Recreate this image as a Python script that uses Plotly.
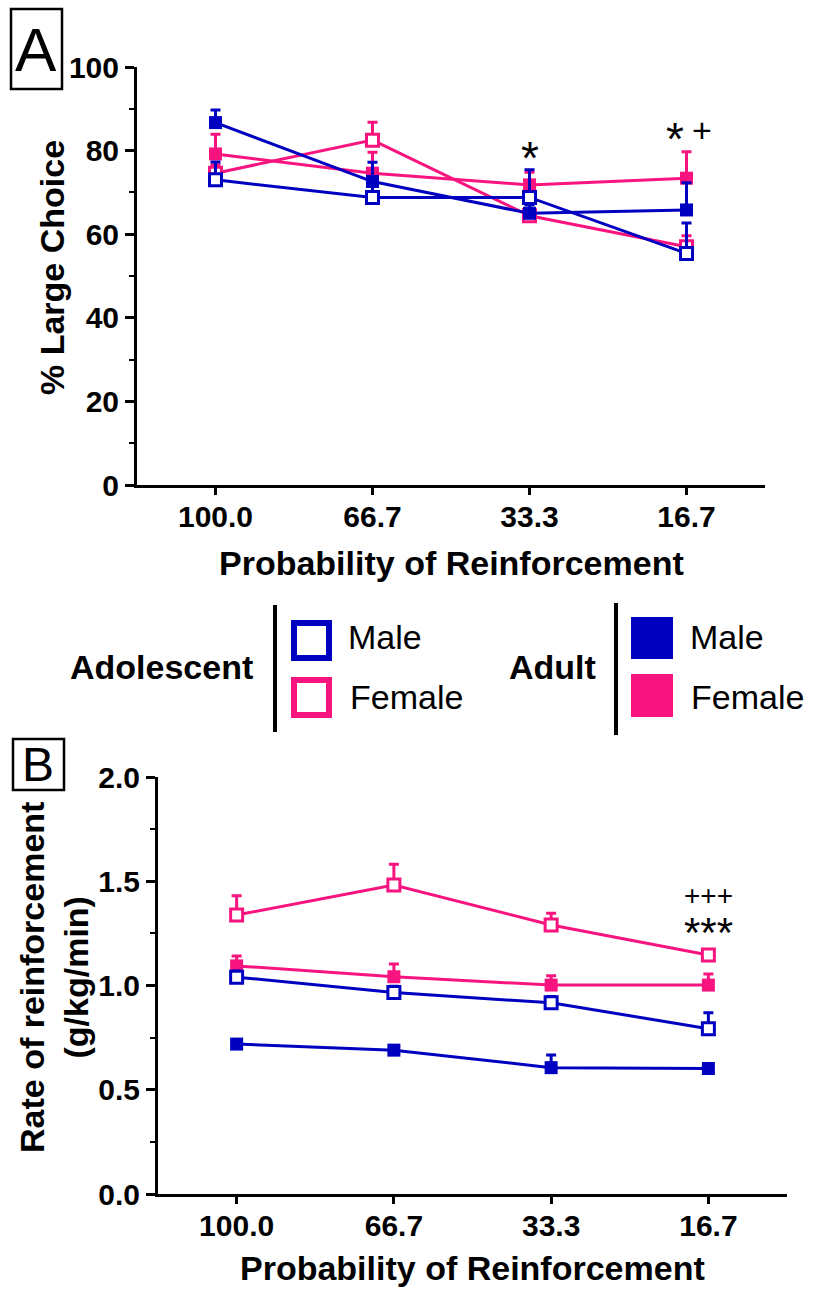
import plotly.graph_objects as go

# ---- data -------------------------------------------------------------
categories = ["100.0", "66.7", "33.3", "16.7"]

# Panel A: % large choice (mean and SEM)
adol_male_A = [73.0, 68.8, 68.8, 55.4]
adol_male_A_sem = [4.3, 4.0, 6.6, 7.3]
adol_female_A = [74.6, 82.5, 64.4, 57.0]
adol_female_A_sem = [2.0, 4.3, 1.5, 2.6]
adult_male_A = [86.7, 72.6, 65.0, 65.8]
adult_male_A_sem = [3.0, 4.6, 2.0, 6.5]
adult_female_A = [79.2, 74.6, 71.8, 73.4]
adult_female_A_sem = [4.7, 5.0, 3.0, 6.3]

# Panel B: rate of reinforcement in g/kg/min (mean and SEM)
adol_male_B = [1.04, 0.966, 0.917, 0.793]
adol_male_B_sem = [0.03, 0.03, 0.03, 0.076]
adol_female_B = [1.338, 1.482, 1.290, 1.146]
adol_female_B_sem = [0.093, 0.10, 0.056, 0.02]
adult_male_B = [0.719, 0.690, 0.606, 0.602]
adult_male_B_sem = [0.02, 0.02, 0.061, 0.02]
adult_female_B = [1.094, 1.042, 1.002, 1.002]
adult_female_B_sem = [0.047, 0.061, 0.045, 0.053]

BLUE = "#0000C0"
PINK = "#F8147E"
FONT = "Arial, Liberation Sans, sans-serif"
W, H = 815, 1289


def px(x):
    return x / W


def py(y):
    return 1 - y / H


xi = list(range(len(categories)))

fig = go.Figure()


def add_series(y, sem, color, filled, xa, ya):
    fig.add_trace(go.Scatter(
        x=xi, y=y, xaxis=xa, yaxis=ya, mode="lines+markers",
        line=dict(color=color, width=3),
        marker=dict(symbol="square", size=12 if not filled else 13,
                    color="white" if not filled else color,
                    line=dict(color=color, width=3 if not filled else 0)),
        error_y=dict(type="data", symmetric=False, array=sem,
                     arrayminus=[0] * len(sem), color=color,
                     thickness=3, width=5),
        showlegend=False, hoverinfo="skip"))


# panel A
add_series(adol_female_A, adol_female_A_sem, PINK, False, "x", "y")
add_series(adult_female_A, adult_female_A_sem, PINK, True, "x", "y")
add_series(adult_male_A, adult_male_A_sem, BLUE, True, "x", "y")
add_series(adol_male_A, adol_male_A_sem, BLUE, False, "x", "y")
# panel B
add_series(adol_female_B, adol_female_B_sem, PINK, False, "x2", "y2")
add_series(adult_female_B, adult_female_B_sem, PINK, True, "x2", "y2")
add_series(adult_male_B, adult_male_B_sem, BLUE, True, "x2", "y2")
add_series(adol_male_B, adol_male_B_sem, BLUE, False, "x2", "y2")

tickfont = dict(family=FONT, size=30, color="black", weight="bold")
common_x = dict(range=[-0.5, 3.5], tickvals=xi, ticktext=categories,
                ticks="outside", ticklen=7, tickwidth=2.5, tickcolor="black",
                ticklabelstandoff=-4,
                showline=True, linewidth=3, linecolor="black",
                showgrid=False, zeroline=False, tickfont=tickfont)
common_y = dict(ticks="outside", ticklen=9, tickwidth=2.5, tickcolor="black",
                showline=True, linewidth=3, linecolor="black",
                showgrid=False, zeroline=False, tickfont=tickfont)

fig.update_layout(
    width=W, height=H,
    margin=dict(l=0, r=0, t=0, b=0, autoexpand=False),
    paper_bgcolor="white", plot_bgcolor="white",
    xaxis=dict(domain=[px(137), px(765)], anchor="y", **common_x),
    yaxis=dict(domain=[py(485), py(67)], anchor="x", range=[0, 100],
               tickvals=[0, 20, 40, 60, 80, 100],
               minor=dict(dtick=10, ticks="outside", ticklen=5,
                          tickwidth=2, tickcolor="black"),
               **common_y),
    xaxis2=dict(domain=[px(158), px(787)], anchor="y2", **common_x),
    yaxis2=dict(domain=[py(1194), py(777)], anchor="x2", range=[0, 2.0],
                tickvals=[0, 0.5, 1.0, 1.5, 2.0], tickformat=".1f",
                minor=dict(dtick=0.25, ticks="outside", ticklen=5,
                           tickwidth=2, tickcolor="black"),
                **common_y),
)

ann = []


def text(x, y, s, size, bold=True, xanchor="center", angle=0,
         xref="paper", yref="paper", xshift=0):
    ann.append(dict(x=x, y=y, xref=xref, yref=yref,
                    text=f"<b>{s}</b>" if bold else s,
                    showarrow=False, xanchor=xanchor, yanchor="middle",
                    textangle=angle, xshift=xshift,
                    font=dict(family=FONT, size=size, color="black")))


# axis titles
text(px(451), py(563), "Probability of Reinforcement", 34)
text(px(52), py(268), "% Large Choice", 34, angle=-90)
text(px(472), py(1268), "Probability of Reinforcement", 34)
text(px(54), py(978), "Rate of reinforcement<br>(g/kg/min)", 34, angle=-90)

# significance marks
text(2, 78.2, "*", 46, bold=False, xref="x", yref="y")
text(3, 82.8, "*", 46, bold=False, xref="x", yref="y", xshift=-12)
text(3, 85.0, "+", 34, bold=False, xref="x", yref="y", xshift=15)
text(3, 1.325,
     "<span style='font-size:28px'>+++</span><br>"
     "<span style='font-size:42px'>***</span>",
     32, bold=False, xref="x2", yref="y2")

# panel letters
text(px(36), py(50), "A", 62, bold=False)
text(px(38), py(765), "B", 48, bold=False)

# legend text
text(px(255), py(667), "Adolescent", 34, xanchor="right")
text(px(346), py(637), "Male", 34, bold=False, xanchor="left")
text(px(348), py(697), "Female", 34, bold=False, xanchor="left")
text(px(598), py(667), "Adult", 34, xanchor="right")
text(px(688), py(637), "Male", 34, bold=False, xanchor="left")
text(px(689), py(697), "Female", 34, bold=False, xanchor="left")

fig.update_layout(annotations=ann)

shapes = []


def rect(x0, y0, x1, y1, line_color, fill=None, width=2.5):
    shapes.append(dict(type="rect", xref="paper", yref="paper",
                       x0=px(x0), x1=px(x1), y0=py(y0), y1=py(y1),
                       line=dict(color=line_color, width=width),
                       fillcolor=fill if fill else "rgba(0,0,0,0)"))


def vline(x, y0, y1, width=4):
    shapes.append(dict(type="line", xref="paper", yref="paper",
                       x0=px(x), x1=px(x), y0=py(y0), y1=py(y1),
                       line=dict(color="black", width=width)))


# panel letter boxes
rect(11, 9, 62, 89, "black")
rect(13, 739, 64, 790, "black")
# legend symbols and separators
vline(275, 605, 732)
vline(616, 603, 735)
rect(294, 623, 329, 658, BLUE, width=6)
rect(294, 680, 329, 715, PINK, width=6)
rect(631, 617, 673, 659, BLUE, fill=BLUE, width=0)
rect(631, 674, 673, 717, PINK, fill=PINK, width=0)

fig.update_layout(shapes=shapes)

fig.write_html("out.html")
